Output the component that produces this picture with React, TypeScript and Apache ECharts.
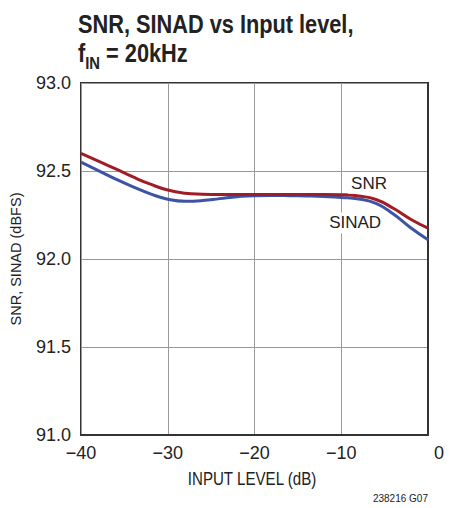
import React, { useEffect, useRef } from "react";
import * as echarts from "echarts";

const inputLevel = [-40, -38, -36, -34, -32, -30, -28, -26, -24, -22, -20, -18, -16, -14, -12, -10, -8, -6, -4, -2, 0];
const snr = [92.6, 92.556, 92.512, 92.466, 92.425, 92.392, 92.374, 92.368, 92.366, 92.366, 92.366, 92.366, 92.366, 92.366, 92.366, 92.365, 92.358, 92.338, 92.288, 92.226, 92.175];
const sinad = [92.55, 92.502, 92.454, 92.41, 92.37, 92.34, 92.328, 92.332, 92.343, 92.354, 92.36, 92.361, 92.36, 92.358, 92.355, 92.35, 92.341, 92.316, 92.256, 92.178, 92.11];
const xTicks = { min: -40, max: 0, interval: 10 };
const yTicks = { min: 91, max: 93, interval: 0.5 };
const seriesLabels = [
  { name: "SNR", at: [-6.8, 92.43] },
  { name: "SINAD", at: [-8.4, 92.205] },
];
const titleLine1 = "SNR, SINAD vs Input level,";
const titleLine2 = "{b|f}{s|IN}{b| = 20kHz}";
const xName = "INPUT LEVEL (dB)";
const yName = "SNR, SINAD (dBFS)";
const footnote = "238216 G07";

const FONT = '"Liberation Sans", Arial, sans-serif';
const RED = "#a11c24";
const BLUE = "#3c53a6";
const INK = "#222";

export default function App() {
  const ref = useRef<HTMLDivElement>(null);
  useEffect(() => {
    document.body.style.margin = "0";
    const chart = echarts.init(ref.current!, null, { renderer: "svg" });
    const mk = (vals: number[]) => inputLevel.map((x, i) => [x, vals[i]]);
    const labelMark = (idx: number) => ({
      symbol: "circle",
      symbolSize: 1,
      itemStyle: { color: "rgba(0,0,0,0)" },
      data: [{ coord: seriesLabels[idx].at, value: seriesLabels[idx].name }],
      label: {
        show: true,
        position: "inside",
        formatter: seriesLabels[idx].name,
        fontFamily: FONT,
        fontSize: 17,
        color: INK,
        backgroundColor: "#fff",
        padding: [2, 3],
      },
    });
    chart.setOption({
      animation: false,
      backgroundColor: "#fff",
      textStyle: { fontFamily: FONT },
      grid: { left: 76, top: 83, width: 352, height: 352, show: true, borderColor: "#333", borderWidth: 2, containLabel: false },
      xAxis: {
        type: "value",
        min: xTicks.min,
        max: xTicks.max,
        interval: xTicks.interval,
        axisLine: { show: true, lineStyle: { color: "#333", width: 2 } },
        axisTick: { show: false },
        splitLine: { show: true, lineStyle: { color: "#999", width: 1 } },
        axisLabel: {
          margin: 9,
          fontFamily: FONT,
          fontSize: 18,
          color: INK,
          formatter: (v: number) => (v < 0 ? "\u2212" + Math.abs(v) : "{z|0}"),
          rich: { z: { fontFamily: FONT, fontSize: 18, color: INK, padding: [0, 0, 0, 22] } },
        },
      },
      yAxis: {
        type: "value",
        min: yTicks.min,
        max: yTicks.max,
        interval: yTicks.interval,
        name: yName,
        nameLocation: "middle",
        nameGap: 58,
        nameTextStyle: { fontFamily: FONT, fontSize: 14.5, color: INK },
        axisLine: { show: true, lineStyle: { color: "#333", width: 2 } },
        axisTick: { show: false },
        splitLine: { show: true, lineStyle: { color: "#999", width: 1 } },
        axisLabel: {
          margin: 10,
          fontFamily: FONT,
          fontSize: 18,
          color: INK,
          formatter: (v: number) => v.toFixed(1),
        },
      },
      series: [
        {
          type: "line",
          name: "SNR",
          data: mk(snr),
          smooth: 0.5,
          showSymbol: false,
          lineStyle: { color: RED, width: 3 },
          z: 3,
          markPoint: labelMark(0),
        },
        {
          type: "line",
          name: "SINAD",
          data: mk(sinad),
          smooth: 0.5,
          showSymbol: false,
          lineStyle: { color: BLUE, width: 3 },
          z: 2,
          markPoint: labelMark(1),
        },
      ],
      graphic: [
        {
          type: "group",
          x: 78,
          y: 0,
          scaleX: 0.87,
          children: [
            {
              type: "text",
              x: 0,
              y: 24,
              style: { text: titleLine1, fontFamily: FONT, fontWeight: "bold", fontSize: 25, fill: INK, verticalAlign: "middle" },
            },
            {
              type: "text",
              x: 0,
              y: 53,
              style: {
                text: titleLine2,
                fontFamily: FONT,
                fontWeight: "bold",
                fontSize: 25,
                fill: INK,
                verticalAlign: "middle",
                rich: {
                  b: { fontFamily: FONT, fontWeight: "bold", fontSize: 25, fill: INK, lineHeight: 29 },
                  s: { fontFamily: FONT, fontWeight: "bold", fontSize: 17, fill: INK, verticalAlign: "bottom", lineHeight: 14, padding: [0, 0, -4, 0] },
                },
              },
            },
          ],
        },
        {
          type: "text",
          x: 252,
          y: 479,
          scaleX: 0.84,
          style: { text: xName, fontFamily: FONT, fontSize: 18, fill: INK, align: "center", verticalAlign: "middle" },
        },
        {
          type: "text",
          x: 428,
          y: 498,
          style: { text: footnote, fontFamily: FONT, fontSize: 10, fill: INK, align: "right", verticalAlign: "middle" },
        },
      ],
    });
    return () => chart.dispose();
  }, []);
  return <div ref={ref} style={{ width: 458, height: 508 }} />;
}
